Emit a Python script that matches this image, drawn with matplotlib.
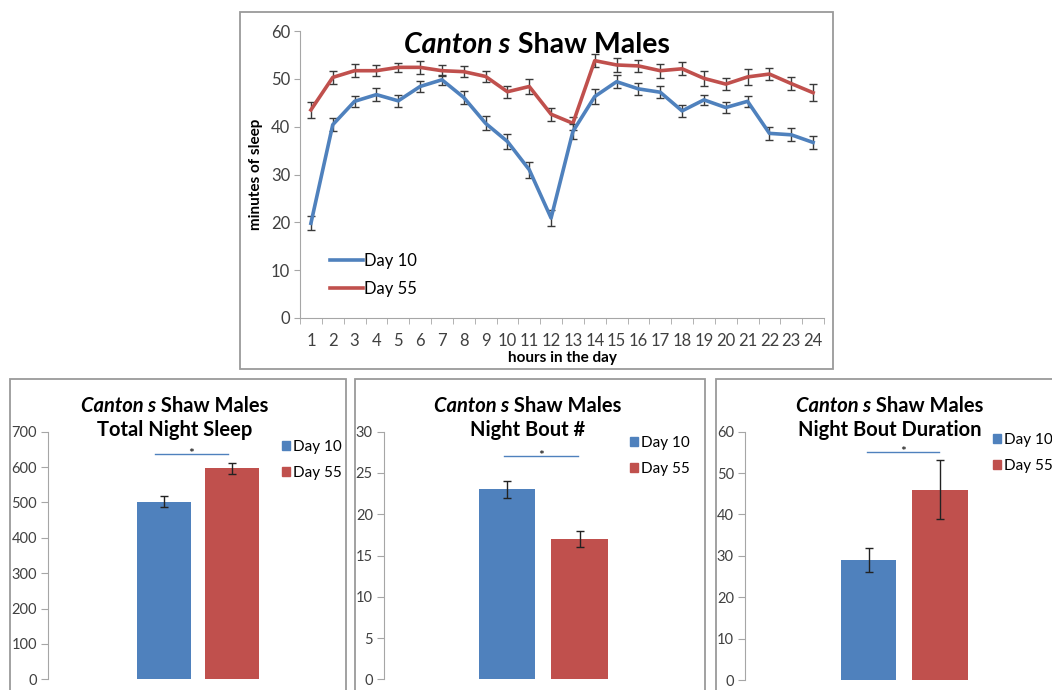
import matplotlib
matplotlib.use("Agg")
import matplotlib.pyplot as plt
from matplotlib.patches import Rectangle
from matplotlib.lines import Line2D
import numpy as np

plt.rcParams['font.family'] = ['Lato', 'DejaVu Sans']

# ---- hourly sleep (top chart)
hours = list(range(1, 25))
day10 = [19.8, 40.4, 45.3, 46.7, 45.4, 48.4, 49.8, 46.1, 40.7, 36.9, 31.0, 20.9,
         39.0, 46.3, 49.4, 47.9, 47.2, 43.3, 45.6, 44.0, 45.3, 38.6, 38.3, 36.7]
day10_err = [1.5, 1.4, 1.2, 1.3, 1.3, 1.1, 1.0, 1.4, 1.5, 1.6, 1.7, 1.6,
             1.6, 1.6, 1.4, 1.3, 1.2, 1.2, 1.0, 1.1, 1.1, 1.4, 1.4, 1.4]
day55 = [43.5, 50.3, 51.7, 51.7, 52.4, 52.4, 51.7, 51.5, 50.5, 47.3, 48.4, 42.6,
         40.7, 53.8, 52.9, 52.7, 51.7, 52.1, 50.1, 48.9, 50.4, 51.0, 49.0, 47.1]
day55_err = [1.6, 1.3, 1.3, 1.2, 1.0, 1.3, 1.1, 1.2, 1.2, 1.3, 1.5, 1.4,
             1.4, 1.4, 1.5, 1.2, 1.5, 1.4, 1.6, 1.3, 1.7, 1.3, 1.4, 1.75]

# ---- night summaries (bottom charts)
groups = ['Day 10', 'Day 55']
night_sleep = [502, 596]
night_sleep_err = [15, 15]
bout_num = [23, 17]
bout_num_err = [1, 1]
bout_dur = [29, 46]
bout_dur_err = [3, 7.2]

BLUE = '#4F81BD'
RED = '#C0504D'
AXC = '#A6A6A6'
TXT = '#404040'
W, H = 1052, 690

fig = plt.figure(figsize=(W / 100, H / 100), dpi=100)


def rect(x0, y0, x1, y1):
    # pixel box (top-left origin) -> figure fraction
    return [x0 / W, 1 - y1 / H, (x1 - x0) / W, (y1 - y0) / H]


def frame(x0, y0, x1, y1):
    fig.patches.append(Rectangle((x0 / W, 1 - y1 / H), (x1 - x0) / W, (y1 - y0) / H,
                                 transform=fig.transFigure, fill=False,
                                 edgecolor='#9A9A9A', linewidth=1.3))


def split_title(xc, y, size, rest):
    # "Canton s" in italic, the rest upright, centred as one line
    r = fig.canvas.get_renderer()
    t1 = fig.text(0, 1 - y / H, 'Canton s', fontsize=size, fontweight='bold',
                  fontstyle='italic', va='center', ha='left')
    t2 = fig.text(0, 1 - y / H, ' ' + rest, fontsize=size, fontweight='bold',
                  va='center', ha='left')
    w1 = t1.get_window_extent(r).width
    w2 = t2.get_window_extent(r).width
    x0 = xc - (w1 + w2) / 2
    t1.set_x(x0 / W)
    t2.set_x((x0 + w1) / W)


# ---------------- top line chart
frame(240, 12, 833, 369)
ax = fig.add_axes(rect(300, 31, 824, 318))
ax.errorbar(hours, day10, yerr=day10_err, color=BLUE, lw=2.6, ecolor='#3A3A3A',
            elinewidth=1, capsize=3, capthick=1, label='Day 10', zorder=3)
ax.errorbar(hours, day55, yerr=day55_err, color=RED, lw=2.6, ecolor='#3A3A3A',
            elinewidth=1, capsize=3, capthick=1, label='Day 55', zorder=2)
ax.set_xlim(0.5, 24.5)
ax.set_ylim(0, 60)
ax.set_yticks(range(0, 61, 10))
ax.set_xticks(hours)
ax.set_xticks(np.arange(0.5, 25, 1), minor=True)
ax.tick_params(axis='x', which='major', length=0, pad=11, labelsize=12, labelcolor=TXT)
ax.tick_params(axis='x', which='minor', length=4, color=AXC, direction='out')
ax.tick_params(axis='y', length=4, color=AXC, labelsize=12, labelcolor=TXT, pad=3)
for s in ['top', 'right']:
    ax.spines[s].set_visible(False)
for s in ['left', 'bottom']:
    ax.spines[s].set_color(AXC)
ax.set_xlabel('hours in the day', fontsize=11, fontweight='bold', labelpad=1)
ax.set_ylabel('minutes of sleep', fontsize=11, fontweight='bold', labelpad=6)
handles = [Line2D([], [], color=BLUE, lw=2.6), Line2D([], [], color=RED, lw=2.6)]
ax.legend(handles, groups, loc='center left', bbox_to_anchor=(330 / W, 1 - 275 / H),
          bbox_transform=fig.transFigure, frameon=False, fontsize=12,
          handlelength=1.95, handletextpad=0.12, labelspacing=0.75, borderpad=0,
          borderaxespad=0)
split_title(537, 45, 20.5, 'Shaw Males')


# ---------------- bottom bar charts
def bar_panel(box, axbox, xlim, vals, errs, ymax, ystep, sub, title_x,
              sig, leg_xy):
    frame(*box)
    a = fig.add_axes(rect(*axbox))
    a.bar([0, 1], vals, width=0.78, color=[BLUE, RED], zorder=2)
    a.errorbar([0, 1], vals, yerr=errs, fmt='none', ecolor='#222222',
               elinewidth=1, capsize=3, capthick=1, zorder=3)
    a.set_xlim(*xlim)
    a.set_ylim(0, ymax)
    a.set_yticks(np.arange(0, ymax + 1, ystep))
    a.set_xticks([])
    a.tick_params(axis='y', length=5, color=AXC, labelsize=10.5, labelcolor=TXT, pad=3)
    for s in ['top', 'right', 'bottom']:
        a.spines[s].set_visible(False)
    a.spines['left'].set_color(AXC)
    x0, x1, ys = sig
    a.plot([x0, x1], [ys, ys], color=BLUE, lw=1)
    a.annotate('*', ((x0 + x1) / 2, ys), xytext=(0, -3), textcoords='offset points',
               ha='center', va='baseline', fontsize=10)
    split_title(title_x, 406, 14.5, 'Shaw Males')
    fig.text(title_x / W, 1 - 430 / H, sub, fontsize=14.5, fontweight='bold',
             ha='center', va='center')
    hs = [Rectangle((0, 0), 1, 1, color=BLUE), Rectangle((0, 0), 1, 1, color=RED)]
    a.legend(hs, groups, loc='center left', bbox_to_anchor=leg_xy,
             bbox_transform=fig.transFigure, frameon=False, fontsize=11,
             handlelength=0.55, handleheight=0.55, handletextpad=0.15,
             labelspacing=0.8, borderpad=0, borderaxespad=0)


bar_panel((10, 379, 346, 700), (48, 431.7, 340, 679.3), (-1.706, 2.588),
          night_sleep, night_sleep_err, 700, 100, 'Total Night Sleep', 175,
          (-0.13, 0.94, 637), (282 / W, 1 - 460 / H))
bar_panel((355, 379, 705, 700), (384, 431.7, 700, 679.3), (-1.697, 2.662),
          bout_num, bout_num_err, 30, 5, 'Night Bout #', 528,
          (-0.04, 0.98, 27.06), (630 / W, 1 - 456 / H))
bar_panel((716, 379, 1070, 700), (745, 431.7, 1050, 680), (-1.727, 2.538),
          bout_dur, bout_dur_err, 60, 10, 'Night Bout Duration', 890,
          (-0.02, 0.99, 55.1), (993 / W, 1 - 453 / H))

fig.savefig('out.png', dpi=100)
